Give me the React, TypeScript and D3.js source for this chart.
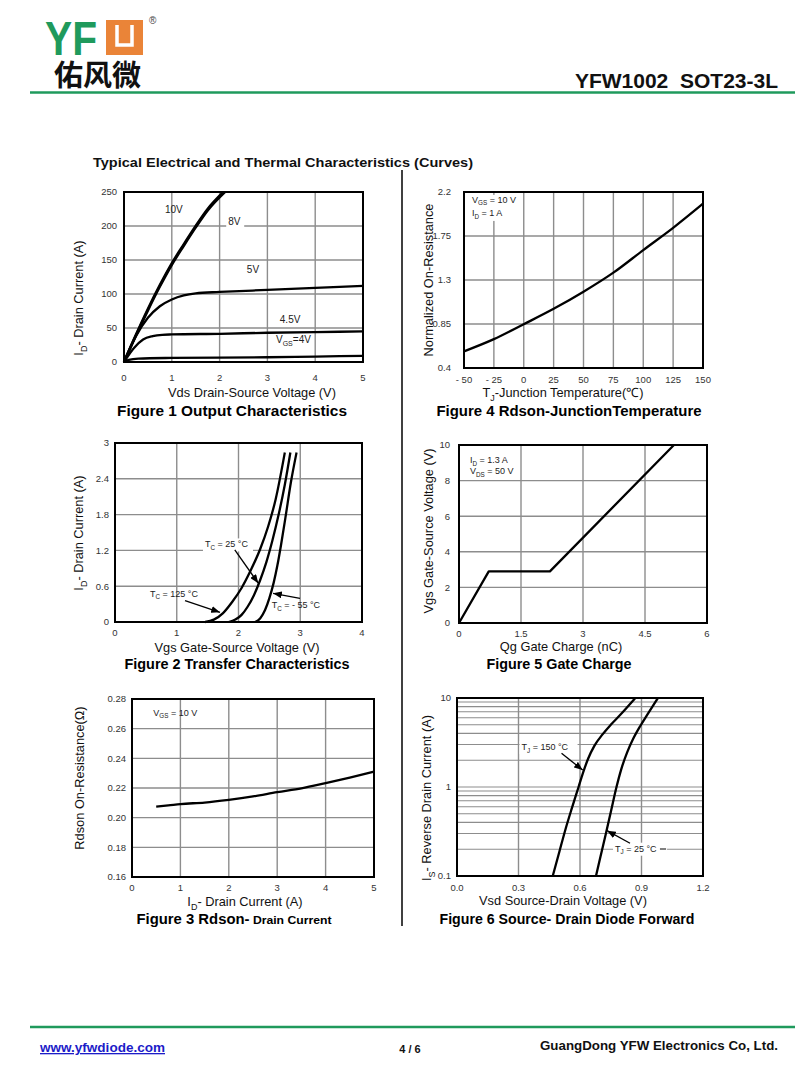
import React from 'react'
import * as d3 from 'd3'

type Pt = [number, number]

const FONT = '"Liberation Sans", Arial, Helvetica, sans-serif'
const GREEN = '#1f9a5c'
const GRID = '#8d8d8d'

// Figure 1 - output characteristics (Vds in V, Id in A)
const f1XTicks = [0, 1, 2, 3, 4, 5]
const f1YTicks = [0, 50, 100, 150, 200, 250]
const f1Vgs10: Pt[] = [[0, 0], [0.25, 40], [0.5, 78], [0.75, 113], [1, 145], [1.25, 173], [1.5, 200], [1.75, 225], [2.08, 250]]
const f1Vgs8: Pt[] = [[0, 0], [0.25, 39], [0.5, 76], [0.75, 111], [1, 143], [1.25, 171], [1.5, 198], [1.75, 223], [2.11, 250]]
const f1Vgs5: Pt[] = [[0, 0], [0.25, 38], [0.5, 65], [0.75, 82], [1, 92], [1.25, 98], [1.5, 101], [2, 103], [3, 106], [4, 109], [5, 112]]
const f1Vgs45: Pt[] = [[0, 0], [0.2, 20], [0.4, 33], [0.6, 38], [0.8, 40], [1, 40.5], [2, 41.5], [3, 43], [4, 44], [5, 45]]
const f1Vgs4: Pt[] = [[0, 0], [0.1, 3], [0.3, 5], [1, 6], [2, 6.5], [3, 7], [4, 8], [5, 9]]

// Figure 4 - normalized Rdson vs junction temperature
const f4XTicks = [-50, -25, 0, 25, 50, 75, 100, 125, 150]
const f4YTicks = [0.4, 0.85, 1.3, 1.75, 2.2]
const f4YLabels = ['0.4', '0.85', '1.3', '1.75', '2.2']
const f4Rdson: Pt[] = [[-50, 0.57], [-25, 0.695], [0, 0.848], [25, 1.005], [50, 1.18], [75, 1.375], [100, 1.606], [125, 1.833], [150, 2.08]]

// Figure 2 - transfer characteristics (Vgs in V, Id in A)
const f2XTicks = [0, 1, 2, 3, 4]
const f2YTicks = [0, 0.6, 1.2, 1.8, 2.4, 3]
const f2YLabels = ['0', '0.6', '1.2', '1.8', '2.4', '3']
const f2T125: Pt[] = [[1.46, 0], [1.6, 0.04], [1.75, 0.15], [1.9, 0.34], [2.05, 0.57], [2.2, 0.87], [2.35, 1.22], [2.48, 1.6], [2.6, 2.05], [2.75, 2.84]]
const f2T25: Pt[] = [[1.84, 0], [1.95, 0.04], [2.05, 0.12], [2.15, 0.26], [2.25, 0.45], [2.35, 0.7], [2.45, 1.0], [2.55, 1.37], [2.65, 1.8], [2.75, 2.3], [2.84, 2.84]]
const f2Tm55: Pt[] = [[2.27, 0], [2.35, 0.06], [2.43, 0.2], [2.5, 0.4], [2.57, 0.66], [2.63, 0.95], [2.69, 1.3], [2.76, 1.75], [2.85, 2.35], [2.94, 2.84]]

// Figure 5 - gate charge (Qg in nC, Vgs in V)
const f5XTicks = [0, 1.5, 3, 4.5, 6]
const f5YTicks = [0, 2, 4, 6, 8, 10]
const f5Vgs: Pt[] = [[0, 0], [0.72, 2.9], [2.2, 2.9], [5.2, 10]]

// Figure 3 - Rdson vs drain current
const f3XTicks = [0, 1, 2, 3, 4, 5]
const f3YTicks = [0.16, 0.18, 0.2, 0.22, 0.24, 0.26, 0.28]
const f3Rdson: Pt[] = [[0.5, 0.2075], [0.75, 0.2083], [1, 0.2092], [1.5, 0.2102], [2, 0.212], [2.5, 0.2143], [3, 0.2172], [3.5, 0.2198], [4, 0.2233], [4.5, 0.227], [5, 0.231]]

// Figure 6 - body diode forward (Vsd in V, Is in A, log)
const f6XTicks = [0, 0.3, 0.6, 0.9, 1.2]
const f6YTicks = [0.1, 1, 10]
const f6YMinor = [0.2, 0.3, 0.4, 0.5, 0.6, 0.7, 0.8, 0.9, 2, 3, 4, 5, 6, 7, 8, 9]
const f6T150: Pt[] = [[0.467, 0.1], [0.5, 0.19], [0.53, 0.34], [0.56, 0.575], [0.593, 1.0], [0.615, 1.45], [0.64, 2.09], [0.67, 2.9], [0.71, 3.9], [0.75, 5.0], [0.8, 6.6], [0.87, 10]]
const f6T25: Pt[] = [[0.678, 0.1], [0.7, 0.166], [0.725, 0.29], [0.75, 0.52], [0.778, 1.0], [0.8, 1.55], [0.83, 2.45], [0.86, 3.5], [0.894, 4.85], [0.93, 6.6], [0.98, 10]]

type Scale = (v: number) => number

interface Series {
  data: Pt[]
  width?: number
  linear?: boolean
}

interface PanelProps {
  box: { left: number; top: number; right: number; bottom: number }
  xDomain: [number, number]
  yDomain: [number, number]
  yLog?: boolean
  xTicks: number[]
  yTicks: number[]
  xFmt: (v: number, i: number) => string
  yFmt: (v: number, i: number) => string
  yMinor?: number[]
  xLabelDy: number
  yLabelDx: number
  series: Series[]
  xTitle: React.ReactNode
  xTitleAt: Pt
  yTitle: React.ReactNode
  yTitleAt: Pt
  title: React.ReactNode
  titleAt: Pt
  titleWidth: number
  notes?: (x: Scale, y: Scale) => React.ReactNode
}

function sub(main: string, s: string, rest: string, fs: number) {
  const d = fs * 0.28
  return (
    <>
      {main}
      <tspan fontSize={fs * 0.7} dy={d}>{s}</tspan>
      <tspan dy={-d}>{rest}</tspan>
    </>
  )
}

function Note({ x, y, w = 0, fs = 9, children }: { x: number; y: number; w?: number; fs?: number; children: React.ReactNode }) {
  return (
    <g>
      {w > 0 && <rect x={x - 2} y={y - fs} width={w + 4} height={fs + 4} fill="#fff" />}
      <text x={x} y={y} fontSize={fs} fill="#222">{children}</text>
    </g>
  )
}

function Arrow({ x1, y1, x2, y2 }: { x1: number; y1: number; x2: number; y2: number }) {
  return <line x1={x1} y1={y1} x2={x2} y2={y2} stroke="#000" strokeWidth={1.3} markerEnd="url(#arr)" />
}

function Panel(p: PanelProps) {
  const { left, top, right, bottom } = p.box
  const x = d3.scaleLinear().domain(p.xDomain).range([left, right])
  const y = p.yLog
    ? d3.scaleLog().domain(p.yDomain).range([bottom, top])
    : d3.scaleLinear().domain(p.yDomain).range([bottom, top])

  const xGrid = p.xTicks.filter((v) => v !== p.xDomain[0] && v !== p.xDomain[1])
  const yGrid = [...p.yTicks, ...(p.yMinor ?? [])].filter((v) => v !== p.yDomain[0] && v !== p.yDomain[1])

  return (
    <g>
      {/* grid */}
      {xGrid.map((v) => (
        <line key={'gx' + v} x1={x(v)} x2={x(v)} y1={top} y2={bottom} stroke={GRID} strokeWidth={1.4} />
      ))}
      {yGrid.map((v) => (
        <line key={'gy' + v} x1={left} x2={right} y1={y(v)} y2={y(v)} stroke={GRID} strokeWidth={p.yMinor ? 1.1 : 1.4} />
      ))}

      {/* curves */}
      {p.series.map((s, i) => {
        const line = d3
          .line<Pt>()
          .x((d) => x(d[0]))
          .y((d) => y(d[1]))
          .curve(s.linear ? d3.curveLinear : d3.curveMonotoneX)
        return <path key={i} d={line(s.data) ?? ''} fill="none" stroke="#000" strokeWidth={s.width ?? 2.3} strokeLinejoin="round" />
      })}

      {p.notes && p.notes(x, y)}

      {/* frame */}
      <rect x={left} y={top} width={right - left} height={bottom - top} fill="none" stroke="#000" strokeWidth={2} />

      {/* tick labels */}
      {p.xTicks.map((v, i) => (
        <text key={'tx' + v} x={x(v)} y={bottom + p.xLabelDy} fontSize={9.5} fill="#333" textAnchor="middle">
          {p.xFmt(v, i)}
        </text>
      ))}
      {p.yTicks.map((v, i) => (
        <text key={'ty' + v} x={left - p.yLabelDx} y={y(v) + 3.3} fontSize={9.5} fill="#333" textAnchor="end">
          {p.yFmt(v, i)}
        </text>
      ))}

      {/* titles */}
      <text x={p.xTitleAt[0]} y={p.xTitleAt[1]} fontSize={12.8} fill="#111" textAnchor="middle">
        {p.xTitle}
      </text>
      <text
        transform={`translate(${p.yTitleAt[0]},${p.yTitleAt[1]}) rotate(-90)`}
        fontSize={12.8}
        fill="#111"
        textAnchor="middle"
      >
        {p.yTitle}
      </text>
      <text
        x={p.titleAt[0]}
        y={p.titleAt[1]}
        fontSize={14}
        fontWeight="bold"
        fill="#000"
        textAnchor="middle"
        textLength={p.titleWidth}
        lengthAdjust="spacingAndGlyphs"
      >
        {p.title}
      </text>
    </g>
  )
}

export default function App() {
  return (
    <svg
      width={800}
      height={1086}
      viewBox="0 0 800 1086"
      style={{ position: 'absolute', left: 0, top: 0, background: '#fff' }}
      fontFamily={FONT}
    >
      <defs>
        <marker id="arr" viewBox="0 0 10 8" refX="10" refY="4" markerWidth="9" markerHeight="7" markerUnits="userSpaceOnUse" orient="auto">
          <path d="M0,0 L10,4 L0,8 z" fill="#000" />
        </marker>
      </defs>
      <rect width={800} height={1086} fill="#fff" />

      {/* header */}
      <text x={45} y={55} fontSize={49} fontWeight="bold" fill={GREEN} textLength={52} lengthAdjust="spacingAndGlyphs">
        YF
      </text>
      <rect x={106} y={20} width={37} height={35} fill="#ea8438" />
      <path d="M117,25 V45 H132 V25" fill="none" stroke="#fff" strokeWidth={3.5} />
      <text x={149} y={24} fontSize={10} fill="#444">®</text>
      <text x={54} y={86} fontSize={29} fontWeight="bold" fill="#111" fontFamily='"Noto Sans CJK SC", sans-serif'>
        佑风微
      </text>
      <text x={778} y={88} fontSize={21} fontWeight="bold" fill="#111" textAnchor="end" style={{ whiteSpace: 'pre' }}>
        YFW1002  SOT23-3L
      </text>
      <line x1={30} x2={795} y1={92.5} y2={92.5} stroke={GREEN} strokeWidth={2.5} />

      <text x={93} y={166.5} fontSize={13} fontWeight="bold" fill="#111" textLength={380} lengthAdjust="spacingAndGlyphs">
        Typical Electrical and Thermal Characteristics (Curves)
      </text>
      <line x1={402} x2={402} y1={170} y2={926} stroke="#000" strokeWidth={1.5} />

      {/* Figure 1 */}
      <Panel
        box={{ left: 124, top: 192, right: 363, bottom: 362 }}
        xDomain={[0, 5]}
        yDomain={[0, 250]}
        xTicks={f1XTicks}
        yTicks={f1YTicks}
        xFmt={(v) => String(v)}
        yFmt={(v) => String(v)}
        xLabelDy={19}
        yLabelDx={7}
        series={[
          { data: f1Vgs10, width: 2.6 },
          { data: f1Vgs8, width: 2.6 },
          { data: f1Vgs5 },
          { data: f1Vgs45 },
          { data: f1Vgs4 },
        ]}
        xTitle="Vds Drain-Source Voltage (V)"
        xTitleAt={[252, 397]}
        yTitle={sub('I', 'D', '- Drain Current (A)', 12.8)}
        yTitleAt={[83, 298]}
        title="Figure 1 Output Characteristics"
        titleAt={[232, 416]}
        titleWidth={230}
        notes={(x, y) => (
          <g>
            <Note x={x(0.858)} y={y(219)} fs={10}>10V</Note>
            <Note x={x(2.18)} y={y(201)} w={14} fs={10}>8V</Note>
            <Note x={x(2.57)} y={y(131)} w={14} fs={10}>5V</Note>
            <Note x={x(3.26)} y={y(58)} fs={10}>4.5V</Note>
            <Note x={x(3.18)} y={y(28)} fs={10}>{sub('V', 'GS', '=4V', 10)}</Note>
          </g>
        )}
      />

      {/* Figure 4 */}
      <Panel
        box={{ left: 464, top: 192, right: 703, bottom: 368 }}
        xDomain={[-50, 150]}
        yDomain={[0.4, 2.2]}
        xTicks={f4XTicks}
        yTicks={f4YTicks}
        xFmt={(v) => (v < 0 ? `- ${-v}` : String(v))}
        yFmt={(_, i) => f4YLabels[i]}
        xLabelDy={15}
        yLabelDx={13}
        series={[{ data: f4Rdson }]}
        xTitle={sub('T', 'J', '-Junction Temperature(℃)', 12.8)}
        xTitleAt={[563, 397]}
        yTitle="Normalized On-Resistance"
        yTitleAt={[433, 280]}
        title="Figure 4 Rdson-JunctionTemperature"
        titleAt={[569, 416]}
        titleWidth={265}
        notes={(x, y) => (
          <g>
            <rect x={x(-44)} y={y(2.17)} width={50} height={26} fill="#fff" />
            <Note x={x(-43.3)} y={y(2.09)}>{sub('V', 'GS', ' = 10 V', 9)}</Note>
            <Note x={x(-43.3)} y={y(1.954)}>{sub('I', 'D', ' = 1 A', 9)}</Note>
          </g>
        )}
      />

      {/* Figure 2 */}
      <Panel
        box={{ left: 115, top: 443, right: 362, bottom: 622 }}
        xDomain={[0, 4]}
        yDomain={[0, 3]}
        xTicks={f2XTicks}
        yTicks={f2YTicks}
        xFmt={(v) => String(v)}
        yFmt={(_, i) => f2YLabels[i]}
        xLabelDy={14}
        yLabelDx={6}
        series={[{ data: f2T125 }, { data: f2T25 }, { data: f2Tm55 }]}
        xTitle="Vgs Gate-Source Voltage (V)"
        xTitleAt={[237, 652]}
        yTitle={sub('I', 'D', '- Drain Current (A)', 12.8)}
        yTitleAt={[83, 533]}
        title="Figure 2 Transfer Characteristics"
        titleAt={[237, 669]}
        titleWidth={225}
        notes={(x, y) => (
          <g>
            <Note x={x(1.457)} y={y(1.25)} w={46}>{sub('T', 'C', ' = 25 °C', 9)}</Note>
            <Arrow x1={x(1.94)} y1={y(1.21)} x2={x(2.32)} y2={y(0.65)} />
            <Note x={x(0.567)} y={y(0.42)}>{sub('T', 'C', ' = 125 °C', 9)}</Note>
            <Arrow x1={x(1.134)} y1={y(0.357)} x2={x(1.7)} y2={y(0.163)} />
            <Note x={x(2.537)} y={y(0.23)}>{sub('T', 'C', ' = - 55 °C', 9)}</Note>
            <Arrow x1={x(2.996)} y1={y(0.397)} x2={x(2.56)} y2={y(0.481)} />
          </g>
        )}
      />

      {/* Figure 5 */}
      <Panel
        box={{ left: 459, top: 445, right: 707, bottom: 623 }}
        xDomain={[0, 6]}
        yDomain={[0, 10]}
        xTicks={f5XTicks}
        yTicks={f5YTicks}
        xFmt={(v) => String(v)}
        yFmt={(v) => String(v)}
        xLabelDy={13.5}
        yLabelDx={9}
        series={[{ data: f5Vgs, linear: true }]}
        xTitle="Qg Gate Charge (nC)"
        xTitleAt={[561, 651]}
        yTitle="Vgs Gate-Source Voltage (V)"
        yTitleAt={[433, 531]}
        title="Figure 5 Gate Charge"
        titleAt={[559, 669]}
        titleWidth={145}
        notes={(x, y) => (
          <g>
            <Note x={x(0.266)} y={y(8.97)}>{sub('I', 'D', ' = 1.3 A', 9)}</Note>
            <Note x={x(0.266)} y={y(8.35)}>{sub('V', 'DS', ' = 50 V', 9)}</Note>
          </g>
        )}
      />

      {/* Figure 3 */}
      <Panel
        box={{ left: 132, top: 699, right: 374, bottom: 877 }}
        xDomain={[0, 5]}
        yDomain={[0.16, 0.28]}
        xTicks={f3XTicks}
        yTicks={f3YTicks}
        xFmt={(v) => String(v)}
        yFmt={(v) => v.toFixed(2)}
        xLabelDy={14}
        yLabelDx={6}
        series={[{ data: f3Rdson }]}
        xTitle={sub('I', 'D', '- Drain Current (A)', 12.8)}
        xTitleAt={[245, 906]}
        yTitle="Rdson On-Resistance(Ω)"
        yTitleAt={[84, 778]}
        title={
          <>
            Figure 3 Rdson-<tspan fontSize={11.5}> Drain Current</tspan>
          </>
        }
        titleAt={[234, 924]}
        titleWidth={195}
        notes={(x, y) => <Note x={x(0.44)} y={y(0.2686)}>{sub('V', 'GS', ' = 10 V', 9)}</Note>}
      />

      {/* Figure 6 */}
      <Panel
        box={{ left: 457, top: 698, right: 703, bottom: 876 }}
        xDomain={[0, 1.2]}
        yDomain={[0.1, 10]}
        yLog
        xTicks={f6XTicks}
        yTicks={f6YTicks}
        yMinor={f6YMinor}
        xFmt={(v) => v.toFixed(1)}
        yFmt={(v) => String(v)}
        xLabelDy={15}
        yLabelDx={6}
        series={[{ data: f6T150 }, { data: f6T25 }]}
        xTitle="Vsd Source-Drain Voltage (V)"
        xTitleAt={[563, 905]}
        yTitle={sub('I', 'S', '- Reverse Drain Current (A)', 12.8)}
        yTitleAt={[431, 798]}
        title="Figure 6 Source- Drain Diode Forward"
        titleAt={[567, 924]}
        titleWidth={255}
        notes={(x, y) => (
          <g>
            <Note x={x(0.315)} y={y(2.6)} w={54}>{sub('T', 'J', ' = 150 °C', 9)}</Note>
            <Arrow x1={x(0.51)} y1={y(2.39)} x2={x(0.613)} y2={y(1.55)} />
            <Note x={x(0.771)} y={y(0.1875)} w={50}>{sub('T', 'J', ' = 25 °C', 9)}</Note>
            <line x1={x(0.99)} x2={x(1.02)} y1={y(0.201)} y2={y(0.201)} stroke="#000" strokeWidth={1} />
            <Arrow x1={x(0.844)} y1={y(0.233)} x2={x(0.732)} y2={y(0.323)} />
          </g>
        )}
      />

      {/* footer */}
      <line x1={30} x2={795} y1={1027} y2={1027} stroke={GREEN} strokeWidth={2.5} />
      <text x={40} y={1052} fontSize={13} fontWeight="bold" fill="#1c1cc8" textDecoration="underline" textLength={125} lengthAdjust="spacingAndGlyphs">
        www.yfwdiode.com
      </text>
      <text x={410} y={1053} fontSize={11} fontWeight="bold" fill="#111" textAnchor="middle">
        4 / 6
      </text>
      <text x={778} y={1050} fontSize={13} fontWeight="bold" fill="#111" textAnchor="end" textLength={238} lengthAdjust="spacingAndGlyphs">
        GuangDong YFW Electronics Co, Ltd.
      </text>
    </svg>
  )
}
